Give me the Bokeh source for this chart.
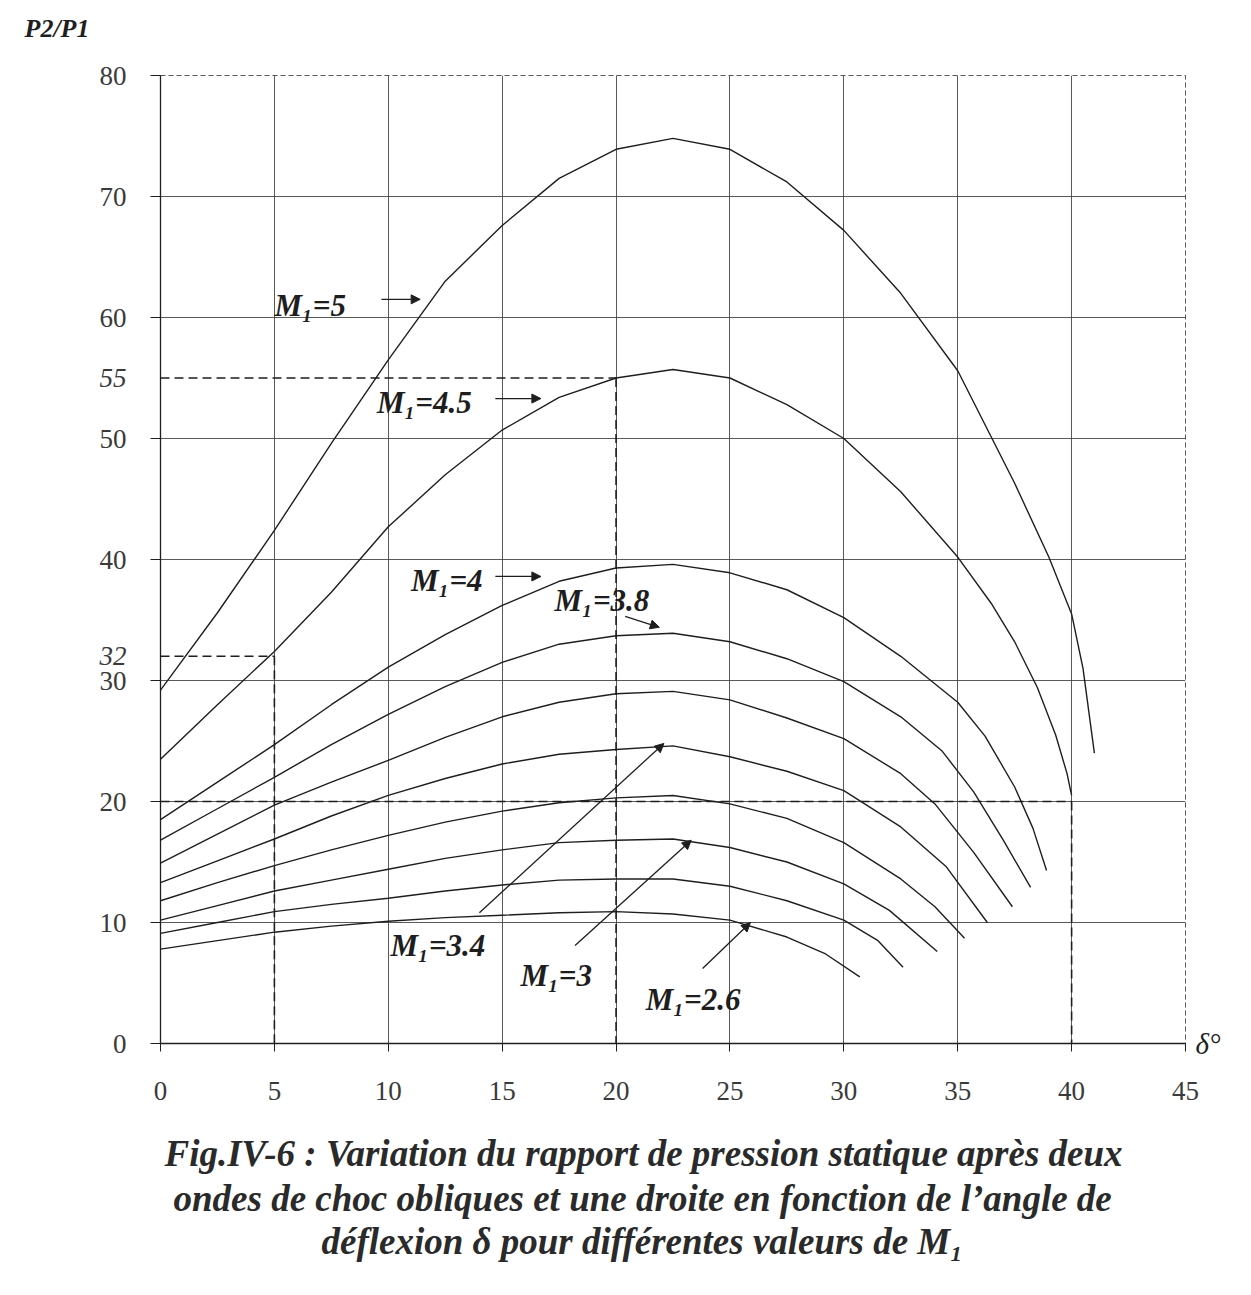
from bokeh.plotting import figure
from bokeh.models import Range1d, FixedTicker, Arrow, NormalHead, Title, ColumnDataSource, LinearAxis
from bokeh.embed import file_html
from bokeh.resources import INLINE
from bokeh.core.properties import value

# ---------------- data ----------------
mach_labels = ["5", "4.5", "4", "3.8", "3.6", "3.4", "3.2", "3", "2.8", "2.6"]

d_m50 = [0, 2.5, 5, 7.5, 10, 12.5, 15, 17.5, 20, 22.5, 25, 27.5, 30, 32.5, 35, 37.5, 39, 40, 40.5, 41]
p_m50 = [29.2, 35.6, 42.4, 49.6, 56.5, 63.0, 67.6, 71.5, 73.9, 74.8, 73.9, 71.2, 67.2, 62.0, 55.6, 46.3, 40.2, 35.5, 31.0, 24.0]

d_m45 = [0, 2.5, 5, 7.5, 10, 12.5, 15, 17.5, 20, 22.5, 25, 27.5, 30, 32.5, 35, 36.5, 37.5, 38.5, 39.3, 39.8, 40]
p_m45 = [23.5, 28.0, 32.4, 37.3, 42.7, 47.0, 50.7, 53.4, 55.0, 55.7, 55.0, 52.8, 50.0, 45.6, 40.2, 36.3, 33.2, 29.4, 25.5, 22.3, 20.5]

d_m40 = [0, 2.5, 5, 7.5, 10, 12.5, 15, 17.5, 20, 22.5, 25, 27.5, 30, 32.5, 35, 36.2, 37.5, 38.3, 38.9]
p_m40 = [18.5, 21.6, 24.7, 28.0, 31.1, 33.8, 36.2, 38.2, 39.3, 39.6, 38.9, 37.5, 35.2, 32.0, 28.2, 25.4, 21.2, 17.8, 14.3]

d_m38 = [0, 2.5, 5, 7.5, 10, 12.5, 15, 17.5, 20, 22.5, 25, 27.5, 30, 32.5, 34.3, 35.7, 37.0, 38.2]
p_m38 = [16.8, 19.4, 22.0, 24.7, 27.2, 29.5, 31.5, 33.0, 33.7, 33.9, 33.2, 31.8, 29.9, 27.0, 24.2, 20.8, 16.8, 12.9]

d_m36 = [0, 2.5, 5, 7.5, 10, 12.5, 15, 17.5, 20, 22.5, 25, 27.5, 30, 32.5, 34.0, 35.7, 37.4]
p_m36 = [14.9, 17.3, 19.7, 21.6, 23.4, 25.3, 27.0, 28.2, 28.9, 29.1, 28.4, 26.9, 25.2, 22.3, 19.8, 15.8, 11.3]

d_m34 = [0, 2.5, 5, 7.5, 10, 12.5, 15, 17.5, 20, 22.5, 25, 27.5, 30, 32.5, 34.5, 36.3]
p_m34 = [13.3, 15.1, 16.9, 18.8, 20.5, 21.9, 23.1, 23.9, 24.3, 24.6, 23.7, 22.5, 20.9, 17.9, 14.6, 10.0]

d_m32 = [0, 2.5, 5, 7.5, 10, 12.5, 15, 17.5, 20, 22.5, 25, 27.5, 30, 32.5, 34.0, 35.3]
p_m32 = [11.8, 13.3, 14.7, 16.0, 17.2, 18.3, 19.2, 19.9, 20.3, 20.5, 19.8, 18.6, 16.6, 13.6, 11.3, 8.7]

d_m30 = [0, 2.5, 5, 7.5, 10, 12.5, 15, 17.5, 20, 22.5, 25, 27.5, 30, 32, 34.1]
p_m30 = [10.2, 11.4, 12.6, 13.5, 14.4, 15.3, 16.0, 16.6, 16.8, 16.9, 16.2, 15.0, 13.2, 11.0, 7.6]

d_m28 = [0, 2.5, 5, 7.5, 10, 12.5, 15, 17.5, 20, 22.5, 25, 27.5, 30, 31.5, 32.6]
p_m28 = [9.1, 10.0, 10.9, 11.5, 12.0, 12.6, 13.1, 13.5, 13.6, 13.6, 13.0, 11.8, 10.2, 8.5, 6.3]

d_m26 = [0, 2.5, 5, 7.5, 10, 12.5, 15, 17.5, 20, 22.5, 25, 27.5, 29.2, 30.7]
p_m26 = [7.8, 8.5, 9.2, 9.7, 10.1, 10.4, 10.6, 10.8, 10.9, 10.7, 10.2, 8.8, 7.4, 5.5]

# worked reading examples (dashed guides): delta -> P2/P1
ex_delta = [5, 20, 40]
ex_ratio = [32, 55, 20]

x_ticks = [0, 5, 10, 15, 20, 25, 30, 35, 40, 45]
y_ticks = [0, 10, 20, 30, 40, 50, 60, 70, 80]
y_extra_ticks = [32, 55]

# curve labels (text, anchor) and their arrows
lab_text = ["M₁=5", "M₁=4.5", "M₁=4", "M₁=3.8", "M₁=3.4", "M₁=3", "M₁=2.6"]
lab_x = [5.0, 9.5, 11.0, 17.3, 10.1, 15.8, 21.3]
lab_y = [61.0, 53.0, 38.3, 36.6, 8.1, 5.6, 3.6]
arr_x0 = [9.7, 14.7, 14.7, 20.4, 14.0, 18.2, 23.8]
arr_y0 = [61.5, 53.3, 38.6, 35.3, 10.8, 8.1, 6.2]
arr_x1 = [11.4, 16.7, 16.7, 21.9, 22.1, 23.3, 25.9]
arr_y1 = [61.5, 53.3, 38.6, 34.4, 24.8, 16.8, 10.0]

curves = [(d_m50, p_m50), (d_m45, p_m45), (d_m40, p_m40), (d_m38, p_m38), (d_m36, p_m36),
          (d_m34, p_m34), (d_m32, p_m32), (d_m30, p_m30), (d_m28, p_m28), (d_m26, p_m26)]

SERIF = "Liberation Serif"
INK = "#1e1e1e"
TICK_INK = "#3a3a3a"

p = figure(frame_width=1025, frame_height=968,
           x_range=Range1d(0, 45), y_range=Range1d(0, 80),
           output_backend="svg", toolbar_location=None,
           min_border_left=160, min_border_right=50,
           min_border_top=75, min_border_bottom=235)

p.background_fill_color = "white"
p.border_fill_color = "white"
p.outline_line_color = "#555555"
p.outline_line_dash = "5 3"
p.outline_line_width = 1

# grid
p.xgrid.ticker = FixedTicker(ticks=x_ticks)
p.ygrid.ticker = FixedTicker(ticks=y_ticks)
for g in (p.xgrid, p.ygrid):
    g.grid_line_color = "#3c3c3c"
    g.grid_line_width = 1
    g.grid_line_alpha = 0.85

# axes
p.xaxis.ticker = FixedTicker(ticks=x_ticks)
p.yaxis.ticker = FixedTicker(ticks=y_ticks)
for ax in (p.xaxis, p.yaxis):
    ax.axis_line_color = INK
    ax.axis_line_width = 1.3
    ax.major_tick_line_color = INK
    ax.minor_tick_line_color = None
    ax.major_tick_in = 0
    ax.major_label_text_font = SERIF
    ax.major_label_text_font_size = "27px"
    ax.major_label_text_color = TICK_INK
p.xaxis.major_tick_out = 8
p.xaxis.major_label_standoff = 30
p.yaxis.major_tick_out = 10
p.yaxis.major_label_standoff = 24

# italic extra ticks 32 and 55 (second left axis, pulled back towards the frame)
extra = LinearAxis(ticker=FixedTicker(ticks=y_extra_ticks))
extra.axis_line_color = None
extra.major_tick_line_color = None
extra.minor_tick_line_color = None
extra.major_tick_out = 0
extra.major_tick_in = 0
extra.major_label_text_font = SERIF
extra.major_label_text_font_style = "italic"
extra.major_label_text_font_size = "27px"
extra.major_label_text_color = TICK_INK
extra.major_label_standoff = -30
p.add_layout(extra, "left")

# δ° at the end of the horizontal axis (right axis with a single tick at 0)
dax = LinearAxis(ticker=FixedTicker(ticks=[0]), major_label_overrides={0: "δ°"})
dax.axis_line_color = None
dax.major_tick_line_color = None
dax.minor_tick_line_color = None
dax.major_tick_out = 0
dax.major_tick_in = 0
dax.major_label_text_font = SERIF
dax.major_label_text_font_style = "italic"
dax.major_label_text_font_size = "29px"
dax.major_label_text_color = INK
dax.major_label_standoff = 10
p.add_layout(dax, "right")


def spacer_axis(size):
    # an invisible axis used only to reserve vertical room
    a = LinearAxis(ticker=FixedTicker(ticks=[0]), major_label_overrides={0: ""})
    a.axis_line_color = None
    a.major_tick_line_color = None
    a.minor_tick_line_color = None
    a.major_tick_in = 0
    a.major_tick_out = size
    a.minor_tick_out = 0
    a.major_label_standoff = 0
    a.major_label_text_font_size = "1px"
    return a


# y-axis name at the top left (pushed up by an invisible spacer axis)
p.add_layout(spacer_axis(33), "above")
p.add_layout(Title(text="P2/P1", align="left", offset=-136, standoff=0,
                   text_font=SERIF, text_font_style="bold italic",
                   text_font_size="26px", text_color=INK), "above")

# curves
for d, r in curves:
    p.line(d, r, line_color=INK, line_width=1.4)

# dashed reading guides
zeros = [0] * len(ex_delta)
p.segment(x0=zeros, y0=ex_ratio, x1=ex_delta, y1=ex_ratio,
          line_color=INK, line_width=1.6, line_dash="9 5")
p.segment(x0=ex_delta, y0=ex_ratio, x1=ex_delta, y1=zeros,
          line_color=INK, line_width=1.6, line_dash="9 5")

# curve labels
src = ColumnDataSource(dict(x=lab_x, y=lab_y, t=lab_text))
p.text(x="x", y="y", text="t", source=src,
       text_font=value(SERIF), text_font_style="bold italic",
       text_font_size="31px", text_color=INK,
       text_align="left", text_baseline="middle")

for x0, y0, x1, y1 in zip(arr_x0, arr_y0, arr_x1, arr_y1):
    p.add_layout(Arrow(x_start=x0, y_start=y0, x_end=x1, y_end=y1,
                       line_color=INK, line_width=1.3,
                       end=NormalHead(size=9, line_color=INK, fill_color=INK)))

# caption (below an invisible spacer axis)
p.add_layout(spacer_axis(27), "below")
cap = ["Fig.IV-6 : Variation du rapport de pression statique après deux",
       "ondes de choc obliques et une droite en fonction de l’angle de",
       "déflexion δ pour différentes valeurs de M₁"]
cap_offset = [4, 13, 161]
cap_standoff = [2, 2, -2]
for line, o, s in zip(cap, cap_offset, cap_standoff):
    p.add_layout(Title(text=line, align="left", offset=o, text_font=SERIF,
                       text_font_style="bold italic", text_font_size="37px",
                       text_color="#2a2a2a", standoff=s), "below")

open("out.html", "w").write(file_html(p, INLINE))
